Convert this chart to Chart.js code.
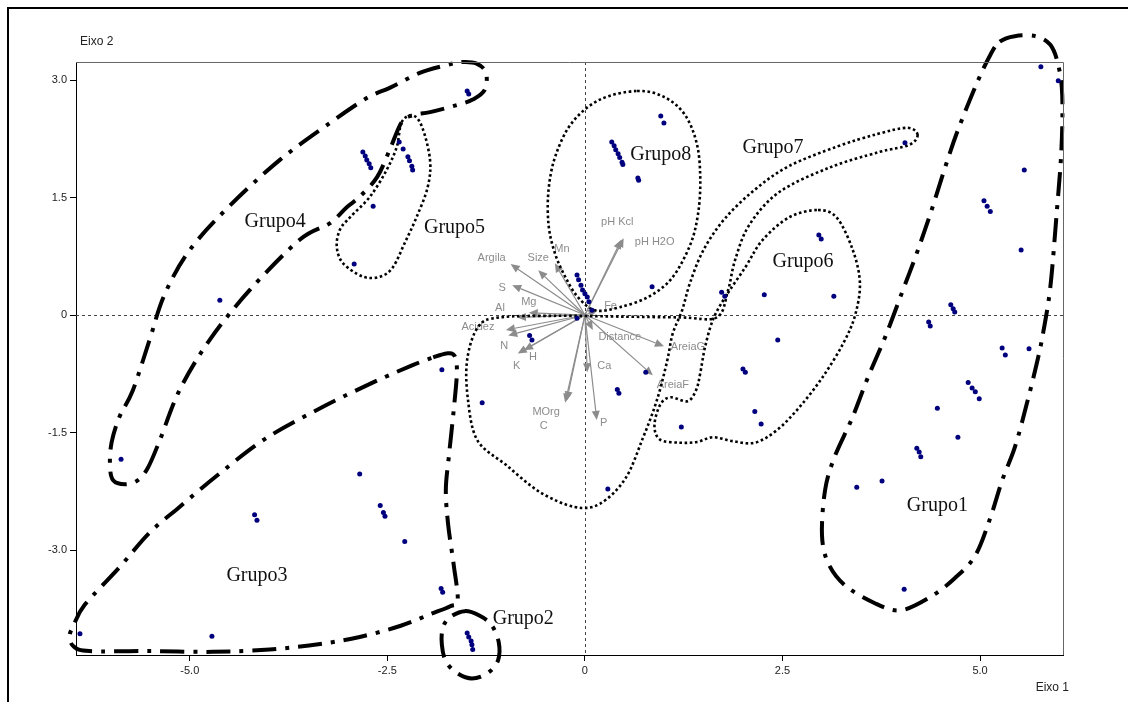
<!DOCTYPE html>
<html>
<head>
<meta charset="utf-8">
<script src="https://cdn.jsdelivr.net/npm/chart.js@4.4.1/dist/chart.umd.min.js"></script>
<style>
  html, body { margin: 0; padding: 0; background: #ffffff; }
  #wrap { position: relative; width: 1128px; height: 702px; }
</style>
</head>
<body>
<div id="wrap"><canvas id="c" width="1128" height="702"></canvas></div>
<script>
// ---- Sample scores (Eixo 1, Eixo 2) ----
const scoreX = [
  5.77, 5.99, 4.05, 5.56, 5.05, 5.09, 5.13, 5.52, 4.63, 4.66, 4.68, 4.35, 4.37,
  5.28, 5.32, 5.62, 4.85, 4.90, 4.94, 4.99, 4.46, 4.72, 4.20, 4.23, 4.25, 3.44, 3.76, 4.04,
  2.96, 2.99, 1.73, 1.77, 2.27, 3.15, 2.44, 2.00, 2.03, 2.15, 2.23, 1.22, 0.77, 0.43, 0.41, 0.85,
  0.34, 0.37, 0.39, 0.42, 0.44, 0.47, 0.48, 0.96, 1.00, 0.67, 0.68,
  -0.10, -0.08, -0.05, -0.03, 0.00, 0.03, 0.05, 0.09, -0.10, -0.70, -0.67, -1.30, -1.81, 0.29,
  -1.49, -1.47, -2.81, -2.78, -2.76, -2.73, -2.71, -2.35, -2.30, -2.24, -2.22, -2.19, -2.18, -2.68, -2.92, -4.62, -5.87,
  -2.85, -2.59, -2.55, -2.53, -4.18, -4.15, -2.28, -1.82, -1.80, -4.72, -6.39,
  -1.49, -1.47, -1.44, -1.43, -1.42
];
const scoreY = [
  3.17, 2.99, 2.20, 1.85, 1.46, 1.39, 1.32, 0.83, 0.13, 0.08, 0.04, -0.09, -0.14,
  -0.42, -0.51, -0.43, -0.86, -0.93, -0.98, -1.07, -1.19, -1.56, -1.70, -1.75, -1.81, -2.20, -2.12, -3.50,
  1.02, 0.97, 0.29, 0.24, 0.26, 0.24, -0.32, -0.69, -0.73, -1.23, -1.39, -1.43, -0.73, -1.00, -0.95, 0.36,
  2.21, 2.16, 2.11, 2.06, 2.01, 1.95, 1.92, 2.54, 2.45, 1.75, 1.72,
  0.51, 0.45, 0.38, 0.32, 0.27, 0.23, 0.17, 0.06, -0.04, -0.26, -0.32, -1.12, -0.70, -2.22,
  2.86, 2.82, 2.08, 2.03, 1.98, 1.93, 1.88, 2.21, 2.12, 2.02, 1.97, 1.90, 1.85, 1.39, 0.65, 0.19, -1.84,
  -2.03, -2.43, -2.52, -2.57, -2.55, -2.62, -2.89, -3.49, -3.54, -4.10, -4.07,
  -4.06, -4.11, -4.16, -4.21, -4.27
];

// ---- Environmental variables (loadings) ----
const varNames = ['pH Kcl', 'pH H2O', 'Argila', 'Size', 'Mn', 'S', 'Mg', 'Al', 'Acidez', 'N',
                  'H', 'K', 'Fe', 'Distance', 'AreiaG', 'AreiaF', 'Ca', 'MOrg', 'C', 'P'];
const varX = [0.46, 0.49, -0.94, -0.59, -0.38, -0.92, -0.71, -0.86, -1.00, -0.97,
              -0.77, -0.85, 0.16, 0.10, 1.00, 0.86, 0.03, -0.25, -0.23, 0.15];
const varY = [0.96, 0.98, 0.65, 0.57, 0.66, 0.38, 0.03, -0.03, -0.19, -0.26,
              -0.45, -0.49, 0.06, -0.19, -0.40, -0.77, -0.73, -1.12, -1.09, -1.34];

// ---- Axis ticks ----
const tickX = [-5.0, -2.5, 0, 2.5, 5.0];
const tickY = [-3.0, -1.5, 0, 1.5, 3.0];

// ---- Group outlines (closed curves, in axis units) ----
const groupNames = ['Grupo1', 'Grupo2', 'Grupo3', 'Grupo4', 'Grupo5', 'Grupo6', 'Grupo7', 'Grupo8'];
const grupo1X = [5.25, 5.44, 5.70, 5.89, 5.99, 6.04, 6.03, 5.97, 5.89, 5.80, 5.72, 5.59, 5.44, 5.28, 5.13, 4.94, 4.68, 4.37, 3.99, 3.65, 3.29, 3.08, 3.00, 3.04, 3.16, 3.38, 3.58, 3.80, 4.01, 4.20, 4.39, 4.56, 4.72, 4.96, 5.13];
const grupo1Y = [3.49, 3.56, 3.56, 3.45, 3.19, 2.81, 2.11, 1.30, 0.36, -0.22, -0.61, -1.14, -1.69, -2.11, -2.59, -3.07, -3.36, -3.60, -3.77, -3.67, -3.45, -3.17, -2.81, -2.23, -1.81, -1.32, -0.80, -0.28, 0.28, 0.79, 1.35, 1.89, 2.36, 2.96, 3.32];
const grupo2X = [-1.52, -1.33, -1.18, -1.09, -1.10, -1.23, -1.43, -1.62, -1.76, -1.81, -1.80, -1.71];
const grupo2Y = [-3.78, -3.84, -3.96, -4.18, -4.41, -4.57, -4.64, -4.57, -4.42, -4.21, -4.00, -3.86];
const grupo3X = [-1.92, -1.75, -1.65, -1.62, -1.66, -1.72, -1.76, -1.73, -1.66, -1.61, -1.71, -1.96, -2.34, -2.85, -3.35, -3.99, -4.71, -5.51, -6.27, -6.47, -6.52, -6.47, -6.33, -5.89, -5.51, -5.13, -4.62, -4.03, -3.35, -2.68, -2.18];
const grupo3Y = [-0.54, -0.49, -0.52, -0.73, -1.21, -1.79, -2.23, -2.68, -3.19, -3.64, -3.72, -3.82, -3.97, -4.11, -4.20, -4.27, -4.30, -4.29, -4.29, -4.23, -4.10, -3.96, -3.70, -3.22, -2.78, -2.45, -2.02, -1.57, -1.19, -0.86, -0.64];
const grupo4X = [-5.53, -5.38, -5.13, -4.75, -4.24, -3.61, -3.23, -3.01, -2.85, -2.63, -2.47, -2.32, -2.18, -1.96, -1.62, -1.42, -1.27, -1.25, -1.37, -1.56, -1.75, -2.09, -2.47, -2.76, -3.23, -3.86, -4.49, -5.00, -5.32, -5.51, -5.72, -5.89, -5.99, -6.01, -5.97, -5.82, -5.66];
const grupo4Y = [-1.95, -1.60, -0.96, -0.32, 0.32, 0.96, 1.17, 1.38, 1.51, 1.76, 2.11, 2.46, 2.55, 2.59, 2.68, 2.75, 2.87, 3.09, 3.21, 3.23, 3.19, 3.09, 2.90, 2.77, 2.45, 1.98, 1.40, 0.83, 0.26, -0.32, -0.96, -1.30, -1.63, -1.92, -2.11, -2.16, -2.11];
const grupo5X = [-2.32, -2.18, -2.06, -1.96, -1.99, -2.13, -2.28, -2.43, -2.59, -2.81, -3.06, -3.14, -3.10, -2.97, -2.72, -2.51, -2.38];
const grupo5Y = [2.46, 2.55, 2.40, 1.98, 1.63, 1.25, 0.92, 0.61, 0.49, 0.49, 0.66, 0.87, 1.09, 1.25, 1.51, 1.85, 2.15];
const grupo6X = [2.95, 3.19, 3.39, 3.48, 3.42, 3.27, 3.01, 2.72, 2.43, 2.15, 1.87, 1.62, 1.42, 1.20, 0.95, 0.88, 0.95, 1.08, 1.30, 1.41, 1.46, 1.52, 1.62, 1.77, 2.03, 2.25, 2.59];
const grupo6Y = [1.34, 1.24, 0.83, 0.41, 0.00, -0.36, -0.79, -1.17, -1.47, -1.63, -1.61, -1.56, -1.62, -1.63, -1.59, -1.41, -1.15, -1.05, -1.10, -0.95, -0.74, -0.41, -0.06, 0.22, 0.61, 0.96, 1.25];
const grupo7X = [4.21, 4.08, 3.70, 3.19, 2.58, 2.15, 1.77, 1.50, 1.33, 1.23, 1.11, 1.04, 0.91, 0.73, 0.51, 0.19, -0.13, -0.57, -0.99, -1.36, -1.48, -1.49, -1.35, -1.08, -0.32, 0.44, 1.21, 1.67, 1.81, 1.90, 2.08, 2.46, 3.09, 3.72, 4.10];
const grupo7Y = [2.30, 2.39, 2.31, 2.15, 1.90, 1.60, 1.23, 0.83, 0.41, 0.06, -0.24, -0.59, -1.09, -1.58, -2.09, -2.41, -2.45, -2.26, -1.92, -1.60, -1.08, -0.57, -0.15, -0.03, -0.01, -0.02, -0.03, -0.03, 0.31, 0.70, 1.15, 1.57, 1.88, 2.08, 2.17];
const grupo8X = [0.66, 1.01, 1.27, 1.42, 1.46, 1.43, 1.33, 1.10, 0.80, 0.44, 0.13, -0.09, -0.25, -0.38, -0.46, -0.46, -0.37, -0.16, 0.19];
const grupo8Y = [2.86, 2.78, 2.55, 2.17, 1.72, 1.28, 0.89, 0.47, 0.23, 0.10, 0.06, 0.23, 0.49, 0.79, 1.15, 1.60, 2.04, 2.46, 2.75];

// ---- Drawing setup ----
const outlines = [
  { name: 'Grupo1', xs: grupo1X, ys: grupo1Y, style: 'dashdot' },
  { name: 'Grupo2', xs: grupo2X, ys: grupo2Y, style: 'dashdot' },
  { name: 'Grupo3', xs: grupo3X, ys: grupo3Y, style: 'dashdot' },
  { name: 'Grupo4', xs: grupo4X, ys: grupo4Y, style: 'dashdot' },
  { name: 'Grupo5', xs: grupo5X, ys: grupo5Y, style: 'dotted' },
  { name: 'Grupo6', xs: grupo6X, ys: grupo6Y, style: 'dotted' },
  { name: 'Grupo7', xs: grupo7X, ys: grupo7Y, style: 'dotted' },
  { name: 'Grupo8', xs: grupo8X, ys: grupo8Y, style: 'dotted' }
];
// where each group name sits (axis units)
const groupLabelAt = {
  Grupo1: [4.46, -2.44], Grupo2: [-0.78, -3.88], Grupo3: [-4.15, -3.33], Grupo4: [-3.92, 1.19],
  Grupo5: [-1.65, 1.12], Grupo6: [2.76, 0.68], Grupo7: [2.38, 2.13], Grupo8: [0.96, 2.04]
};
// pixel offset of each variable name from its arrow tip
const varLabelOffset = {
  'pH Kcl': [-4, -18], 'pH H2O': [31, 4], 'Argila': [-19, -6], 'Size': [0, -12], 'Mn': [7, -14],
  'S': [-10, 3], 'Mg': [0, -11], 'Al': [-17, -9], 'Acidez': [-28, -3], 'N': [-4, 11],
  'H': [9, 7], 'K': [-1, 13], 'Fe': [13, -4], 'Distance': [27, 7], 'AreiaG': [24, 1],
  'AreiaF': [20, 10], 'Ca': [17, -6], 'MOrg': [-19, 9], 'C': [-23, 26], 'P': [7, 3]
};

function closedSpline(ctx, pts) {
  const n = pts.length;
  ctx.beginPath();
  ctx.moveTo(pts[0][0], pts[0][1]);
  for (let i = 0; i < n; i++) {
    const p0 = pts[(i - 1 + n) % n], p1 = pts[i], p2 = pts[(i + 1) % n], p3 = pts[(i + 2) % n];
    const c1x = p1[0] + (p2[0] - p0[0]) / 6, c1y = p1[1] + (p2[1] - p0[1]) / 6;
    const c2x = p2[0] - (p3[0] - p1[0]) / 6, c2y = p2[1] - (p3[1] - p1[1]) / 6;
    ctx.bezierCurveTo(c1x, c1y, c2x, c2y, p2[0], p2[1]);
  }
  ctx.closePath();
}

const biplotLayers = {
  id: 'biplotLayers',
  beforeDatasetsDraw(chart) {
    const { ctx, chartArea: a, scales: { x, y } } = chart;
    ctx.save();
    // zero reference lines
    ctx.strokeStyle = '#444';
    ctx.lineWidth = 1;
    ctx.setLineDash([3, 3]);
    const x0 = Math.round(x.getPixelForValue(0)) + 0.5;
    const y0 = Math.round(y.getPixelForValue(0)) + 0.5;
    ctx.beginPath();
    ctx.moveTo(a.left, y0); ctx.lineTo(a.right, y0);
    ctx.moveTo(x0, a.top); ctx.lineTo(x0, a.bottom);
    ctx.stroke();

    // variable arrows
    ctx.setLineDash([]);
    ctx.strokeStyle = '#8c8c8c';
    ctx.fillStyle = '#8c8c8c';
    ctx.lineWidth = 1.2;
    const ox = x.getPixelForValue(0), oy = y.getPixelForValue(0);
    ctx.font = '11px "Liberation Sans", Arial, sans-serif';
    ctx.textAlign = 'center';
    ctx.textBaseline = 'middle';
    varNames.forEach((nm, i) => {
      const tx = x.getPixelForValue(varX[i]), ty = y.getPixelForValue(varY[i]);
      const ang = Math.atan2(ty - oy, tx - ox);
      const hl = 9, hw = 4;
      const bx = tx - hl * Math.cos(ang), by = ty - hl * Math.sin(ang);
      ctx.beginPath();
      ctx.moveTo(ox, oy); ctx.lineTo(bx, by);
      ctx.stroke();
      ctx.beginPath();
      ctx.moveTo(tx, ty);
      ctx.lineTo(bx + hw * Math.sin(ang), by - hw * Math.cos(ang));
      ctx.lineTo(bx - hw * Math.sin(ang), by + hw * Math.cos(ang));
      ctx.closePath();
      ctx.fill();
      const off = varLabelOffset[nm] || [0, 0];
      ctx.fillText(nm, tx + off[0], ty + off[1]);
    });

    // group outlines
    ctx.strokeStyle = '#000';
    ctx.lineCap = 'butt';
    outlines.forEach(g => {
      const pts = g.xs.map((v, i) => [x.getPixelForValue(v), y.getPixelForValue(g.ys[i])]);
      if (g.style === 'dashdot') {
        ctx.lineWidth = 4;
        ctx.setLineDash([24, 9, 4, 9]);
      } else {
        ctx.lineWidth = 2.6;
        ctx.setLineDash([2.6, 2.6]);
      }
      closedSpline(ctx, pts);
      ctx.stroke();
    });
    ctx.setLineDash([]);

    // group names
    ctx.fillStyle = '#111';
    ctx.font = '20px "Liberation Serif", "Times New Roman", serif';
    ctx.textAlign = 'center';
    ctx.textBaseline = 'middle';
    groupNames.forEach(nm => {
      const p = groupLabelAt[nm];
      ctx.fillText(nm, x.getPixelForValue(p[0]), y.getPixelForValue(p[1]));
    });
    ctx.restore();
  },
  afterDraw(chart) {
    const { ctx, chartArea: a } = chart;
    ctx.save();
    // plot frame top/right
    ctx.strokeStyle = '#666';
    ctx.lineWidth = 1;
    ctx.beginPath();
    ctx.moveTo(a.left, a.top + 0.5); ctx.lineTo(a.right + 0.5, a.top + 0.5); ctx.lineTo(a.right + 0.5, a.bottom);
    ctx.stroke();
    // outer panel frame
    ctx.strokeStyle = '#000';
    ctx.lineWidth = 2;
    ctx.strokeRect(8, 8, 1400, 1400);
    // axis titles
    ctx.fillStyle = '#222';
    ctx.font = '12px "Liberation Sans", Arial, sans-serif';
    ctx.textBaseline = 'middle';
    ctx.textAlign = 'left';
    ctx.fillText('Eixo 2', 80, 42);
    ctx.textAlign = 'right';
    ctx.fillText('Eixo 1', 1069, 688);
    ctx.restore();
  }
};

const fmt = v => (v === 0 ? '0' : v.toFixed(1));

new Chart(document.getElementById('c'), {
  type: 'scatter',
  data: {
    datasets: [{
      data: scoreX.map((v, i) => ({ x: v, y: scoreY[i] })),
      pointRadius: 2.5,
      pointHoverRadius: 2.5,
      pointBackgroundColor: '#00007f',
      pointBorderWidth: 0
    }]
  },
  options: {
    responsive: false,
    animation: false,
    devicePixelRatio: 1,
    layout: { padding: { left: 0, top: 62, right: 65, bottom: 0 } },
    plugins: { legend: { display: false }, tooltip: { enabled: false } },
    scales: {
      x: {
        type: 'linear', min: -6.44, max: 6.05,
        afterBuildTicks: s => { s.ticks = tickX.map(v => ({ value: v })); },
        afterFit: s => { s.height = 47; },
        grid: { drawOnChartArea: false, drawTicks: true, tickLength: 6, color: '#000' },
        border: { display: true, color: '#000', width: 1 },
        ticks: { callback: fmt, padding: 3, color: '#222', font: { family: '"Liberation Sans", Arial, sans-serif', size: 11 }, maxRotation: 0 }
      },
      y: {
        type: 'linear', min: -4.34, max: 3.23,
        afterBuildTicks: s => { s.ticks = tickY.map(v => ({ value: v })); },
        afterFit: s => { s.width = 76; },
        grid: { drawOnChartArea: false, drawTicks: true, tickLength: 6, color: '#000' },
        border: { display: true, color: '#000', width: 1 },
        ticks: { callback: fmt, padding: 3, color: '#222', font: { family: '"Liberation Sans", Arial, sans-serif', size: 11 } }
      }
    }
  },
  plugins: [biplotLayers]
});
</script>
</body>
</html>
